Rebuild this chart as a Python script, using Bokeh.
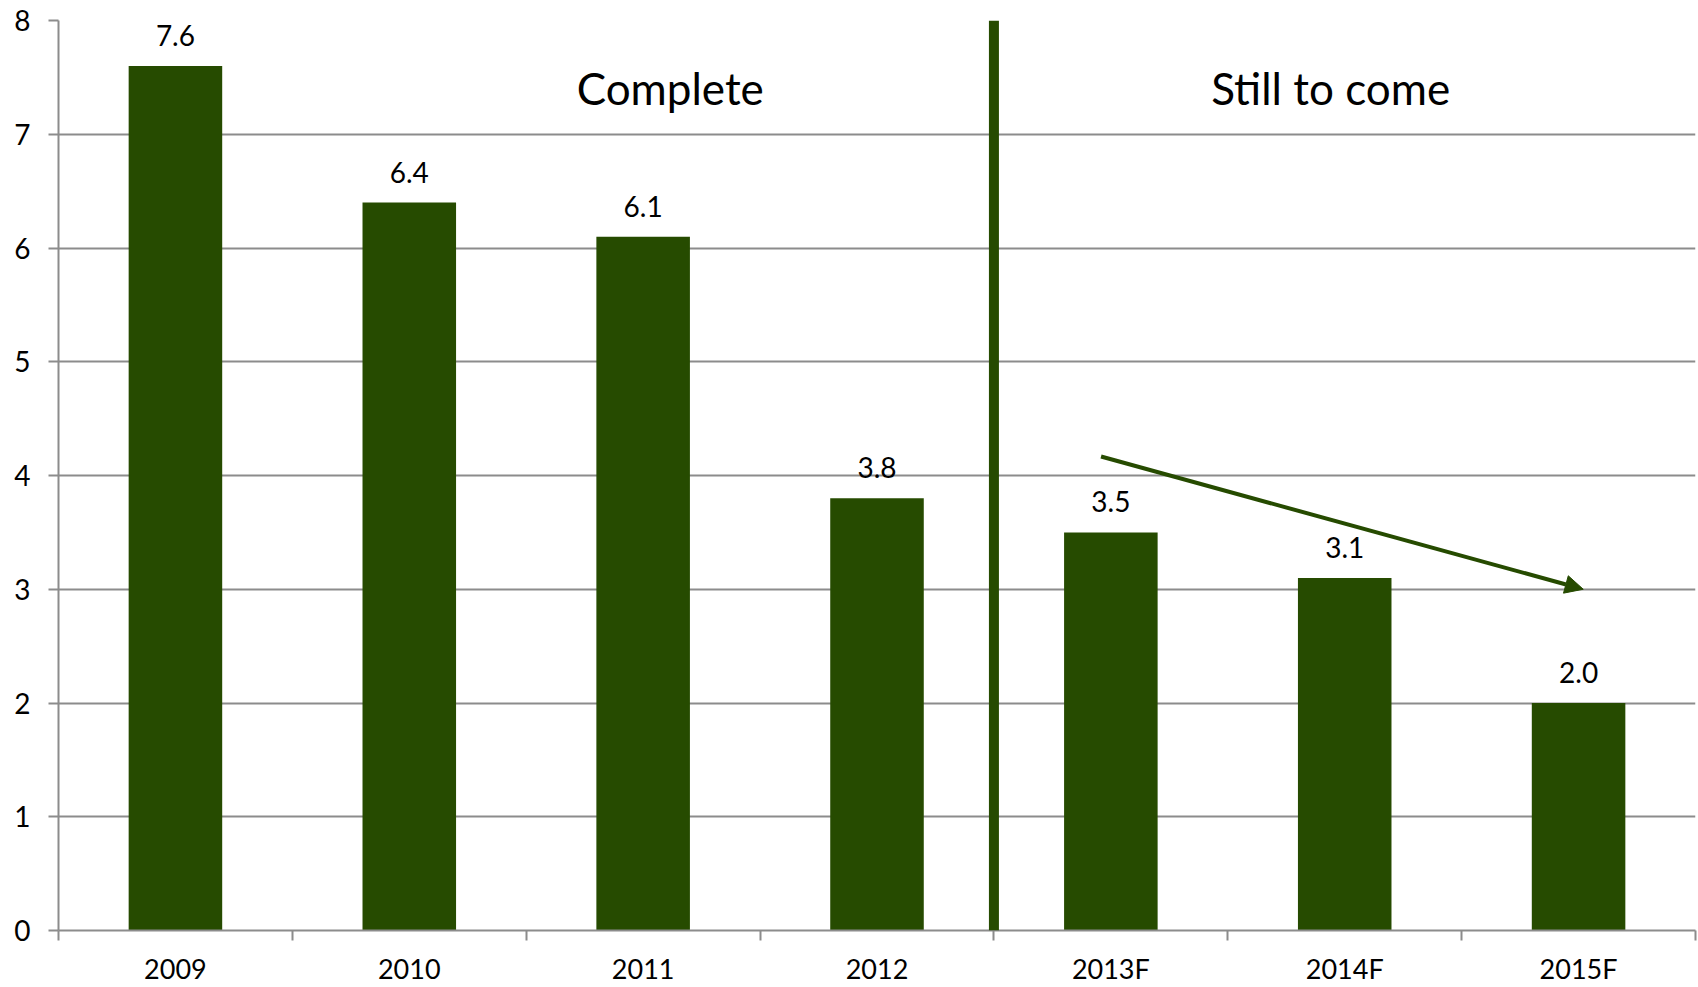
from bokeh.plotting import figure
from bokeh.models import (ColumnDataSource, FixedTicker, Range1d, Span, Arrow,
                          NormalHead, Label)
from bokeh.embed import file_html
from bokeh.resources import INLINE

# ---- data ----
categories = ["2009", "2010", "2011", "2012", "2013F", "2014F", "2015F"]
values = [7.6, 6.4, 6.1, 3.8, 3.5, 3.1, 2.0]
y_ticks = [0, 1, 2, 3, 4, 5, 6, 7, 8]
section_labels = ["Complete", "Still to come"]

BAR = "#264B00"
GRID = "#8C8C8C"
FONT = "Lato"

pos = [i + 0.5 for i in range(len(categories))]
src = ColumnDataSource(dict(x=pos, top=values,
                            label=["%.1f" % v for v in values]))

p = figure(width=1698, height=987, output_backend="svg", toolbar_location=None,
           x_range=Range1d(0, len(categories)), y_range=Range1d(0, 8),
           min_border_left=58, min_border_right=3, min_border_top=20,
           min_border_bottom=57)
p.outline_line_color = None
p.background_fill_color = "white"
p.border_fill_color = "white"

p.vbar(x="x", top="top", width=0.4, source=src, fill_color=BAR, line_color=None)
p.text(x="x", y="top", text="label", source=src, text_align="center",
       text_baseline="bottom", y_offset=-20, text_font_size="28px",
       text_color="black", text_font={"value": FONT})

# x axis
xa = p.xaxis[0]
xa.ticker = FixedTicker(ticks=pos, minor_ticks=list(range(len(categories) + 1)))
xa.major_label_overrides = {p_: c for p_, c in zip(pos, categories)}
xa.major_tick_line_color = None
xa.major_tick_out = 0
xa.major_tick_in = 0
xa.minor_tick_line_color = GRID
xa.minor_tick_line_width = 2
xa.minor_tick_out = 10
xa.minor_tick_in = 0
xa.axis_line_color = GRID
xa.axis_line_width = 2
xa.major_label_text_font = FONT
xa.major_label_text_font_size = "27px"
xa.major_label_text_color = "black"
xa.major_label_standoff = 11

# y axis
ya = p.yaxis[0]
ya.ticker = FixedTicker(ticks=y_ticks)
ya.major_tick_line_color = GRID
ya.major_tick_line_width = 2
ya.major_tick_out = 10
ya.major_tick_in = 0
ya.minor_tick_line_color = None
ya.axis_line_color = GRID
ya.axis_line_width = 2
ya.major_label_text_font = FONT
ya.major_label_text_font_size = "28px"
ya.major_label_text_color = "black"
ya.major_label_standoff = 18

p.xgrid.grid_line_color = None
p.ygrid.grid_line_color = GRID
p.ygrid.grid_line_width = 2
p.ygrid.ticker = FixedTicker(ticks=y_ticks[1:])

# separator between actual and forecast
p.add_layout(Span(location=4, dimension="height", line_color=BAR, line_width=10))

# trend arrow
p.add_layout(Arrow(end=NormalHead(size=18, fill_color=BAR, line_color=BAR),
                   x_start=4.458, y_start=4.167, x_end=6.52, y_end=3.0,
                   line_color=BAR, line_width=4))

for txt, xx in zip(section_labels, [2.616, 5.44]):
    p.add_layout(Label(x=xx, y=7.41, text=txt, text_align="center",
                       text_baseline="alphabetic", text_font=FONT,
                       text_font_size="44px", text_color="black"))

open("out.html", "w").write(file_html(p, INLINE))
